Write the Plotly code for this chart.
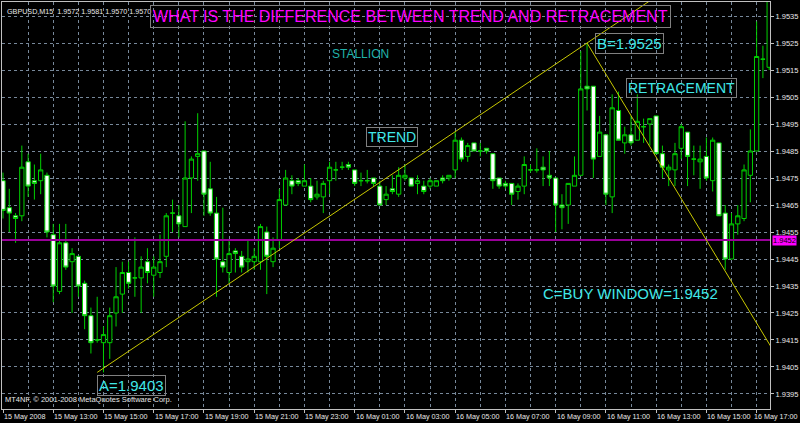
import pandas as pd
import plotly.graph_objects as go

# ---- chart data: GBPUSD, 15-minute bars ----
symbol_header = "GBPUSD,M15  1.9572 1.9581 1.9570 1.9570"
copyright_text = "MT4NF, \u00a9 2001-2008 MetaQuotes Software Corp."
bar_start = "2008-05-15 11:00"

opens = [
    1.9474, 1.9464, 1.9461, 1.9461, 1.9481, 1.9474, 1.9474, 1.9476, 1.9454, 1.9433,
    1.9451, 1.9444, 1.9446, 1.9436, 1.9424, 1.9415, 1.9414, 1.9414, 1.9425, 1.9432,
    1.9440, 1.9438, 1.9438, 1.9444, 1.9439, 1.9440, 1.9446, 1.9462, 1.9461, 1.9457,
    1.9475, 1.9483, 1.9485, 1.9471, 1.9462, 1.9444, 1.9440, 1.9448, 1.9446, 1.9444,
    1.9444, 1.9444, 1.9455, 1.9444, 1.9452, 1.9465, 1.9474, 1.9474, 1.9472, 1.9472,
    1.9468, 1.9468, 1.9474, 1.9478, 1.9479, 1.9480, 1.9478, 1.9474, 1.9474, 1.9475,
    1.9472, 1.9467, 1.9471, 1.9469, 1.9475, 1.9475, 1.9473, 1.9472, 1.9472, 1.9472,
    1.9475, 1.9475, 1.9478, 1.9489, 1.9483, 1.9488, 1.9485, 1.9486, 1.9484, 1.9475,
    1.9473, 1.9473, 1.9470, 1.9472, 1.9478, 1.9478, 1.9479, 1.9476, 1.9475, 1.9465,
    1.9465, 1.9472, 1.9476, 1.9509, 1.9509, 1.9483, 1.9491, 1.9468, 1.9500, 1.9488,
    1.9491, 1.9489, 1.9494, 1.9495, 1.9498, 1.9484, 1.9478, 1.9478, 1.9486, 1.9492,
    1.9482, 1.9481, 1.9483, 1.9474, 1.9488, 1.9462, 1.9445, 1.9458, 1.9460, 1.9476,
    1.9485, 1.9519, 1.9516,
]
highs = [
    1.9477, 1.9471, 1.9462, 1.9487, 1.9484, 1.9480, 1.9484, 1.9477, 1.9458, 1.9458,
    1.9458, 1.9449, 1.9446, 1.9437, 1.9427, 1.9431, 1.9420, 1.9427, 1.9442, 1.9444,
    1.9444, 1.9453, 1.9446, 1.9449, 1.9446, 1.9454, 1.9462, 1.9467, 1.9465, 1.9496,
    1.9483, 1.9499, 1.9485, 1.9481, 1.9468, 1.9464, 1.9452, 1.9449, 1.9448, 1.9452,
    1.9449, 1.9458, 1.9457, 1.9453, 1.9471, 1.9478, 1.9476, 1.9475, 1.9480, 1.9475,
    1.9474, 1.9474, 1.9481, 1.9481, 1.9481, 1.9481, 1.9478, 1.9477, 1.9478, 1.9475,
    1.9474, 1.9472, 1.9476, 1.9479, 1.9480, 1.9475, 1.9476, 1.9474, 1.9475, 1.9474,
    1.9476, 1.9476, 1.9492, 1.9490, 1.9488, 1.9488, 1.9488, 1.9486, 1.9484, 1.9475,
    1.9474, 1.9473, 1.9473, 1.9483, 1.9480, 1.9486, 1.9483, 1.9485, 1.9475, 1.9469,
    1.9473, 1.9483, 1.9522, 1.9525, 1.9509, 1.9498, 1.9491, 1.9506, 1.9507, 1.9494,
    1.9498, 1.9506, 1.9497, 1.9497, 1.9498, 1.9487, 1.9480, 1.9488, 1.9495, 1.9492,
    1.9487, 1.9487, 1.9490, 1.9490, 1.9488, 1.9465, 1.9462, 1.9465, 1.9480, 1.9493,
    1.9533, 1.9524, 1.9560,
]
lows = [
    1.9460, 1.9455, 1.9451, 1.9459, 1.9468, 1.9467, 1.9469, 1.9453, 1.9429, 1.9432,
    1.9441, 1.9425, 1.9431, 1.9419, 1.9410, 1.9414, 1.9403, 1.9408, 1.9420, 1.9425,
    1.9434, 1.9431, 1.9425, 1.9436, 1.9431, 1.9438, 1.9442, 1.9455, 1.9453, 1.9457,
    1.9462, 1.9474, 1.9461, 1.9461, 1.9431, 1.9440, 1.9436, 1.9440, 1.9440, 1.9440,
    1.9441, 1.9441, 1.9432, 1.9442, 1.9449, 1.9465, 1.9469, 1.9472, 1.9472, 1.9466,
    1.9467, 1.9462, 1.9469, 1.9474, 1.9478, 1.9478, 1.9472, 1.9472, 1.9473, 1.9472,
    1.9465, 1.9465, 1.9469, 1.9468, 1.9474, 1.9472, 1.9469, 1.9469, 1.9471, 1.9472,
    1.9473, 1.9474, 1.9475, 1.9481, 1.9481, 1.9485, 1.9483, 1.9484, 1.9471, 1.9471,
    1.9471, 1.9465, 1.9467, 1.9469, 1.9477, 1.9477, 1.9472, 1.9472, 1.9455, 1.9456,
    1.9458, 1.9472, 1.9476, 1.9500, 1.9475, 1.9483, 1.9465, 1.9462, 1.9489, 1.9484,
    1.9487, 1.9489, 1.9488, 1.9487, 1.9484, 1.9475, 1.9472, 1.9472, 1.9482, 1.9472,
    1.9476, 1.9471, 1.9474, 1.9470, 1.9461, 1.9441, 1.9445, 1.9454, 1.9459, 1.9466,
    1.9485, 1.9512, 1.9515,
]
closes = [
    1.9463, 1.9462, 1.9460, 1.9479, 1.9472, 1.9473, 1.9478, 1.9455, 1.9435, 1.9451,
    1.9442, 1.9447, 1.9435, 1.9424, 1.9414, 1.9415, 1.9417, 1.9424, 1.9431, 1.9440,
    1.9436, 1.9438, 1.9442, 1.9440, 1.9442, 1.9444, 1.9461, 1.9462, 1.9458, 1.9475,
    1.9482, 1.9484, 1.9469, 1.9462, 1.9445, 1.9442, 1.9447, 1.9447, 1.9442, 1.9445,
    1.9446, 1.9457, 1.9446, 1.9449, 1.9467, 1.9475, 1.9472, 1.9473, 1.9474, 1.9467,
    1.9469, 1.9473, 1.9479, 1.9478, 1.9479, 1.9479, 1.9473, 1.9474, 1.9474, 1.9473,
    1.9465, 1.9469, 1.9470, 1.9476, 1.9476, 1.9472, 1.9474, 1.9470, 1.9474, 1.9474,
    1.9474, 1.9476, 1.9489, 1.9482, 1.9487, 1.9485, 1.9485, 1.9485, 1.9474, 1.9472,
    1.9472, 1.9469, 1.9472, 1.9480, 1.9478, 1.9478, 1.9478, 1.9475, 1.9465, 1.9464,
    1.9473, 1.9476, 1.9508, 1.9508, 1.9482, 1.9492, 1.9469, 1.9501, 1.9489, 1.9491,
    1.9488, 1.9496, 1.9494, 1.9497, 1.9484, 1.9479, 1.9479, 1.9484, 1.9494, 1.9483,
    1.9482, 1.9482, 1.9475, 1.9489, 1.9461, 1.9445, 1.9458, 1.9461, 1.9478, 1.9485,
    1.9520, 1.9519, 1.9555,
]
times = pd.date_range(bar_start, periods=len(opens), freq="15min")

# price scale labels
price_ticks = [1.9395, 1.9405, 1.9415, 1.9425, 1.9435, 1.9445, 1.9455, 1.9465,
               1.9475, 1.9485, 1.9495, 1.9505, 1.9515, 1.9525, 1.9535]

# time scale labels (every two hours)
time_ticks = ["2008-05-15 11:00", "2008-05-15 13:00", "2008-05-15 15:00",
              "2008-05-15 17:00", "2008-05-15 19:00", "2008-05-15 21:00",
              "2008-05-15 23:00", "2008-05-16 01:00", "2008-05-16 03:00",
              "2008-05-16 05:00", "2008-05-16 07:00", "2008-05-16 09:00",
              "2008-05-16 11:00", "2008-05-16 13:00", "2008-05-16 15:00",
              "2008-05-16 17:00"]
time_tick_labels = ["15 May 2008", "15 May 13:00", "15 May 15:00", "15 May 17:00",
                    "15 May 19:00", "15 May 21:00", "15 May 23:00", "16 May 01:00",
                    "16 May 03:00", "16 May 05:00", "16 May 07:00", "16 May 09:00",
                    "16 May 11:00", "16 May 13:00", "16 May 15:00", "16 May 17:00"]

# analysis points
point_a = ("2008-05-15 14:45", 1.9403)
point_b = ("2008-05-16 10:15", 1.9525)
point_c = ("2008-05-16 15:00", 1.9452)
buy_level = 1.9452

x_range = ["2008-05-15 10:57:37", "2008-05-16 17:31:57"]
y_range = [1.938944, 1.954019]

# ---- styling ----
FONT = "Liberation Sans, Arial, sans-serif"
CANDLE_GREEN = "#00d000"
GRID = "#77889a"
TREND_YELLOW = "#c8c800"
LABEL_CYAN = "#40e8e8"
BOX_GRAY = "#808080"
AXIS_TEXT = "#e8e8e8"
SMALL = 7.5


def ray(p0, p1, t_end):
    """Extend the line through p0 and p1 up to time t_end."""
    t0, v0 = pd.Timestamp(p0[0]), p0[1]
    t1, v1 = pd.Timestamp(p1[0]), p1[1]
    slope = (v1 - v0) / (t1 - t0).total_seconds()
    te = pd.Timestamp(t_end)
    return str(t0), v0, str(te), v0 + slope * (te - t0).total_seconds()


fig = go.Figure()
fig.add_trace(go.Candlestick(
    x=times, open=opens, high=highs, low=lows, close=closes,
    increasing=dict(line=dict(color=CANDLE_GREEN, width=1), fillcolor="black"),
    decreasing=dict(line=dict(color=CANDLE_GREEN, width=1), fillcolor="white"),
    whiskerwidth=0, hoverinfo="skip",
))

shapes = []
# horizontal buy level
shapes.append(dict(type="line", xref="paper", x0=0, x1=1, yref="y",
                   y0=buy_level, y1=buy_level,
                   line=dict(color="#990099", width=2)))
# trend ray A -> B and retracement ray B -> C
for p0, p1 in [(point_a, point_b), (point_b, point_c)]:
    x0, y0, x1, y1 = ray(p0, p1, "2008-05-16 18:30")
    shapes.append(dict(type="line", xref="x", yref="y", x0=x0, y0=y0, x1=x1, y1=y1,
                       line=dict(color=TREND_YELLOW, width=1)))

annotations = []
# time axis labels, left-aligned on their tick; the last one is kept inside the page
last = len(time_ticks) - 1
for i, (t, lab) in enumerate(zip(time_ticks, time_tick_labels)):
    if i == last:
        pos = dict(x=1, xref="paper", xanchor="right", xshift=30)
    else:
        pos = dict(x=t, xref="x", xanchor="left", xshift=-1)
    annotations.append(dict(y=0, yref="paper", text=lab, yanchor="top", yshift=-1,
                            showarrow=False,
                            font=dict(family=FONT, size=7.2, color=AXIS_TEXT), **pos))


def note(x, y, text, size=14, color=LABEL_CYAN, boxed=True, **kw):
    d = dict(x=x, y=y, xref="paper", yref="paper", text=text, showarrow=False,
             xanchor="center", yanchor="middle",
             font=dict(family=FONT, size=size, color=color))
    if boxed:
        d.update(bordercolor=BOX_GRAY, borderwidth=1, borderpad=1)
    d.update(kw)
    return d


annotations += [
    dict(x=0, xref="paper", y=1, yref="paper", text=symbol_header, xanchor="left",
         yanchor="top", xshift=3, yshift=-3, showarrow=False,
         font=dict(family=FONT, size=7.2, color=AXIS_TEXT)),
    dict(x=0, xref="paper", y=0, yref="paper", text=copyright_text, xanchor="left",
         yanchor="bottom", xshift=1, yshift=3, showarrow=False,
         font=dict(family=FONT, size=SMALL, color=AXIS_TEXT)),
    # price tag of the horizontal line
    dict(x=1, xref="paper", y=buy_level, yref="y", text="1.9452", xanchor="left",
         yanchor="middle", xshift=2, showarrow=False, bgcolor="#ff00ff", borderpad=0,
         font=dict(family=FONT, size=SMALL, color="black")),
    # titles and notes
    note(0.5319, 0.9644, "WHAT IS THE DIFFERENCE BETWEEN TREND AND RETRACEMENT",
         size=16, color="#ff00ff", borderpad=2),
    note(0.4674, 0.8722, "STALLION", size=12, color="#20b2aa", boxed=False),
    note(0.5078, 0.6695, "TREND"),
    note(0.8848, 0.7875, "RETRACEMENT"),
    note(0.8180, 0.2843, f"C=BUY WINDOW={point_c[1]:.4f}", size=15, boxed=False),
    dict(x=point_a[0], xref="x", y=point_a[1], yref="y", text=f"A={point_a[1]:.4f}",
         xanchor="left", yanchor="top", xshift=0, yshift=-3, showarrow=False,
         bordercolor=BOX_GRAY, borderwidth=1, borderpad=1,
         font=dict(family=FONT, size=15, color=LABEL_CYAN)),
    dict(x=point_b[0], xref="x", y=point_b[1], yref="y", text=f"B={point_b[1]:.4f}",
         xanchor="left", yanchor="middle", xshift=8, showarrow=False,
         bordercolor=BOX_GRAY, borderwidth=1, borderpad=1,
         font=dict(family=FONT, size=15, color=LABEL_CYAN)),
]

fig.update_layout(
    width=800, height=423,
    margin=dict(l=2, r=30, t=2, b=14),
    paper_bgcolor="black", plot_bgcolor="black",
    showlegend=False, boxgap=0.32, boxgroupgap=0,
    shapes=shapes, annotations=annotations,
    xaxis=dict(
        type="date", range=x_range, rangeslider=dict(visible=False),
        tick0=time_ticks[0], dtick=7200000, showticklabels=False,
        ticks="outside", ticklen=3, tickcolor="#c0c0c0",
        showgrid=True, gridcolor=GRID, griddash="3px,3px", gridwidth=1,
        minor=dict(dtick=3600000, showgrid=True, gridcolor=GRID, griddash="3px,3px"),
        showline=True, linecolor="#c0c0c0", linewidth=1, mirror=True, zeroline=False,
    ),
    yaxis=dict(
        side="right", range=y_range, tickvals=price_ticks,
        ticktext=[f"{v:.4f}" for v in price_ticks],
        tickfont=dict(family=FONT, size=SMALL, color=AXIS_TEXT),
        ticks="outside", ticklen=3, tickcolor="#c0c0c0",
        showgrid=True, gridcolor=GRID, griddash="3px,3px", gridwidth=1,
        showline=True, linecolor="#c0c0c0", linewidth=1, mirror=True, zeroline=False,
    ),
)

fig.write_html("out.html")
